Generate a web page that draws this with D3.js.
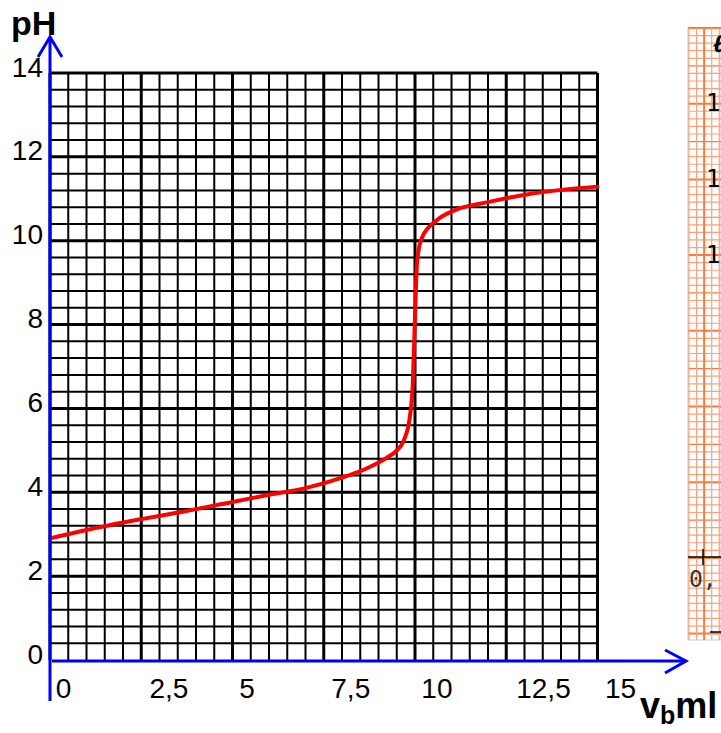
<!DOCTYPE html>
<html>
<head>
<meta charset="utf-8">
<script src="https://cdn.jsdelivr.net/npm/d3@7"></script>
<style>
body { margin: 0; background: #fff; overflow: hidden; }
text { font-family: "Liberation Sans", Arial, sans-serif; }
</style>
</head>
<body>
<div id="chart"></div>
<script>
// titration curve
var volume = [0, 1, 2, 2.5, 3.4, 5, 6, 7, 8, 8.7, 9.2, 9.5, 9.7, 9.86, 9.94, 10, 10.05, 10.1, 10.2, 10.6, 11.1, 12, 13.1, 15];
var ph = [2.9, 3.1, 3.28, 3.36, 3.5, 3.77, 3.94, 4.1, 4.35, 4.58, 4.81, 5.0, 5.25, 5.8, 6.6, 8.2, 9.4, 9.78, 10.09, 10.49, 10.73, 10.92, 11.11, 11.29];

var yTicks = [0, 2, 4, 6, 8, 10, 12, 14];
var xTickLabels = ["0", "2,5", "5", "7,5", "10", "12,5", "15"];
var xTickPos = [0.37, 3.26, 5.4, 8.24, 10.6, 13.52, 15.63];

var width = 721, height = 733;

var svg = d3.select("#chart").append("svg")
    .attr("width", width)
    .attr("height", height);

var x = d3.scaleLinear().domain([0, 15]).range([50, 597.5]);
var y = d3.scaleLinear().domain([0, 14]).range([660, 73]);

// orange graph paper cut off at the right
function drawPaper(){
    var left = 688, top = 28, bottom = 640, step = 7.57;
    var paper = svg.append("g");
    paper.append("rect")
        .attr("x", left).attr("y", top)
        .attr("width", width - left).attr("height", bottom - top)
        .attr("fill", "#fff")
        .attr("stroke", "#c8c8c8");
    var rows = d3.range(0, Math.floor((bottom - top) / step) + 1);
    paper.selectAll(".ph").data(rows).enter().append("line")
        .attr("x1", left).attr("x2", width)
        .attr("y1", function(d){ return top + d * step; })
        .attr("y2", function(d){ return top + d * step; })
        .attr("stroke", function(d){ return d % 5 === 0 ? "#ff7a3a" : "#fba27a"; })
        .attr("stroke-width", function(d){ return d % 10 === 0 ? 2 : 1.2; });
    var cols = d3.range(0, 5);
    paper.selectAll(".pv").data(cols).enter().append("line")
        .attr("y1", top).attr("y2", bottom)
        .attr("x1", function(d){ return left + 1 + d * step; })
        .attr("x2", function(d){ return left + 1 + d * step; })
        .attr("stroke", function(d){ return d === 2 ? "#ff7a3a" : "#fba27a"; })
        .attr("stroke-width", function(d){ return d === 2 ? 2 : 1.2; });
    ["1", "1", "1"].forEach(function(t, i){
        paper.append("text")
            .attr("x", 706).attr("y", 111 + i * 76)
            .style("font-family", "DejaVu Sans Mono, monospace")
            .style("font-size", "24px")
            .text(t);
    });
    paper.append("text")
        .attr("x", 713).attr("y", 52)
        .style("font-size", "24px")
        .style("font-weight", "bold")
        .style("font-style", "italic")
        .text("ℓ");
    paper.append("line")
        .attr("x1", left).attr("x2", width)
        .attr("y1", 557).attr("y2", 557)
        .attr("stroke", "#000").attr("stroke-width", 1.5);
    paper.append("line")
        .attr("x1", 703).attr("x2", 703)
        .attr("y1", 549).attr("y2", 565)
        .attr("stroke", "#000").attr("stroke-width", 1.5);
    paper.append("line")
        .attr("x1", 710).attr("x2", width)
        .attr("y1", 632).attr("y2", 632)
        .attr("stroke", "#000").attr("stroke-width", 1.5);
    paper.append("text")
        .attr("x", 689).attr("y", 587)
        .style("font-family", "DejaVu Sans Mono, monospace")
        .style("font-size", "23px")
        .style("fill", "#333")
        .text("0,");
}
drawPaper();

// grid
var grid = svg.append("g");
var vLines = d3.range(0, 30.5, 1).map(function(d){ return d * 0.5; });
var hLines = d3.range(1, 35.5, 1).map(function(d){ return d * 0.4; });

grid.selectAll(".v").data(vLines).enter().append("line")
    .attr("x1", function(d){ return x(d); })
    .attr("x2", function(d){ return x(d); })
    .attr("y1", y(14)).attr("y2", y(0))
    .attr("stroke", "#000")
    .attr("stroke-width", function(d, i){ return i % 5 === 0 ? 3 : 2; });

grid.selectAll(".h").data(hLines).enter().append("line")
    .attr("x1", x(0)).attr("x2", x(15))
    .attr("y1", function(d){ return y(d); })
    .attr("y2", function(d){ return y(d); })
    .attr("stroke", "#000")
    .attr("stroke-width", function(d, i){ return (i + 1) % 5 === 0 ? 3 : 2; });

// curve
var points = volume.map(function(v, i){ return {v: v, ph: ph[i]}; });
var line = d3.line()
    .x(function(d){ return x(d.v); })
    .y(function(d){ return y(d.ph); })
    .curve(d3.curveMonotoneX);

svg.append("path")
    .datum(points)
    .attr("d", line)
    .attr("fill", "none")
    .attr("stroke", "#ff0000")
    .attr("stroke-width", 4)
    .attr("stroke-linecap", "round");

// blue axes with arrows
var blue = "#0000ff";
svg.append("line")
    .attr("x1", x(0)).attr("x2", x(0))
    .attr("y1", 37).attr("y2", 701)
    .attr("stroke", blue).attr("stroke-width", 3);
svg.append("path")
    .attr("d", "M38,57L" + x(0) + ",37L62,57")
    .attr("fill", "none").attr("stroke", blue).attr("stroke-width", 3);
svg.append("line")
    .attr("x1", x(0) + 2).attr("x2", 686)
    .attr("y1", 661).attr("y2", 661)
    .attr("stroke", blue).attr("stroke-width", 3);
svg.append("path")
    .attr("d", "M665,650L686,661L665,673")
    .attr("fill", "none").attr("stroke", blue).attr("stroke-width", 3);

// tick labels
svg.selectAll(".yl").data(yTicks).enter().append("text")
    .attr("x", 43)
    .attr("y", function(d){ return y(d) + 3.5; })
    .attr("text-anchor", "end")
    .style("font-size", "28px")
    .text(function(d){ return d; });

svg.selectAll(".xl").data(xTickLabels).enter().append("text")
    .attr("x", function(d, i){ return x(xTickPos[i]); })
    .attr("y", 698)
    .attr("text-anchor", "middle")
    .style("font-size", "28px")
    .text(function(d){ return d; });

// axis titles
svg.append("text")
    .attr("x", 11).attr("y", 35)
    .style("font-size", "34px")
    .style("font-weight", "bold")
    .text("pH");

var vb = svg.append("text")
    .attr("x", 640).attr("y", 718)
    .style("font-size", "36px")
    .style("font-weight", "bold");
vb.append("tspan").text("v");
vb.append("tspan").attr("dy", 6).style("font-size", "25px").text("b");
vb.append("tspan").attr("dy", -6).text("ml");
</script>
</body>
</html>
